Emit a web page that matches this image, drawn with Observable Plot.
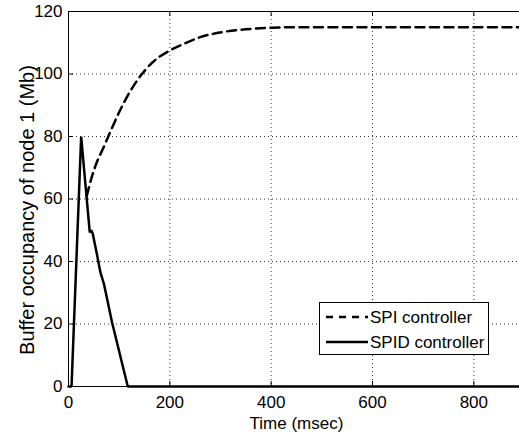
<!DOCTYPE html>
<html>
<head>
<meta charset="utf-8">
<script src="https://cdn.jsdelivr.net/npm/d3@7"></script>
<script src="https://cdn.jsdelivr.net/npm/@observablehq/plot@0.6"></script>
<style>
  html, body { margin: 0; padding: 0; background: #fff; }
  #wrap { position: relative; width: 519px; height: 438px; overflow: hidden; }
  #legend { position: absolute; left: 319px; top: 302px; }
</style>
</head>
<body>
<div id="wrap"></div>
<script>
const FONT = '"Liberation Sans", Arial, Helvetica, sans-serif';

// Data
const spiTime  = [36, 41, 45, 53, 70, 86, 103, 122, 145, 165, 200, 230, 260, 300, 350, 400, 450, 500, 600, 700, 800, 900];
const spiValue = [61, 64.1, 66.5, 70.5, 76.8, 82.8, 88.8, 94.5, 100, 103.6, 107.5, 109.8, 111.8, 113.3, 114.3, 114.8, 115, 115, 115, 115, 115, 115];

const spidTime  = [0, 6, 25, 36, 42, 45, 48, 56, 63, 70, 86, 117, 900];
const spidValue = [0, 0, 80, 60, 49.3, 50, 48.8, 42.4, 36.5, 32.8, 20.5, 0, 0];

const xTicks = [0, 200, 400, 600, 800];
const yTicks = [0, 20, 40, 60, 80, 100, 120];

const seriesNames = ["SPI controller", "SPID controller"];
const xLabel = "Time (msec)";
const yLabel = "Buffer occupancy of node 1 (Mb)";

const spi = spiTime.map((t, i) => ({t, v: spiValue[i]}));
const spid = spidTime.map((t, i) => ({t, v: spidValue[i]}));

const gridStyle = {stroke: "#333", strokeOpacity: 1, strokeDasharray: "1,3", strokeWidth: 1};

const chart = Plot.plot({
  width: 519,
  height: 438,
  marginLeft: 68,
  marginRight: -5,
  marginTop: 11,
  marginBottom: 52,
  x: {domain: [0, 900]},
  y: {domain: [0, 120]},
  style: {fontFamily: FONT, fontSize: "17px", color: "black", background: "white"},
  marks: [
    Plot.gridX(xTicks.filter(d => d > 0), gridStyle),
    Plot.gridY(yTicks.filter(d => d > 0 && d < 120), gridStyle),
    Plot.tickX(xTicks, {x: d => d, insetTop: 370, stroke: "black"}),
    Plot.tickX(xTicks, {x: d => d, insetBottom: 370, stroke: "black"}),
    Plot.tickY(yTicks, {y: d => d, insetRight: 451, stroke: "black"}),
    Plot.line(spi, {x: "t", y: "v", curve: "monotone-x", stroke: "black", strokeWidth: 2.5, strokeDasharray: "9,5.5"}),
    Plot.line(spid, {x: "t", y: "v", stroke: "black", strokeWidth: 2.5, strokeLinejoin: "miter"}),
    Plot.frame({stroke: "black", strokeWidth: 1}),
    Plot.axisX(xTicks, {tickSize: 0, tickPadding: 9, label: null, fontSize: 17}),
    Plot.axisY(yTicks, {tickSize: 0, tickPadding: 6, label: null, fontSize: 17}),
    Plot.text([xLabel], {frameAnchor: "bottom", dy: 37, lineAnchor: "middle", textAnchor: "middle", fontSize: 17, text: d => d}),
    Plot.text([yLabel], {frameAnchor: "left", dx: -41, dy: 11, rotate: -90, lineAnchor: "middle", textAnchor: "middle", fontSize: 20, text: d => d})
  ]
});

const wrap = document.getElementById("wrap");
wrap.appendChild(chart);

// Legend (HTML overlay with an inline SVG)
const lw = 170, lh = 53;
const legend = d3.create("svg")
  .attr("id", "legend")
  .attr("width", lw)
  .attr("height", lh)
  .style("font-family", FONT)
  .style("font-size", "17px");
legend.append("rect")
  .attr("x", 0.5).attr("y", 0.5)
  .attr("width", lw - 1).attr("height", lh - 1)
  .attr("fill", "white").attr("stroke", "black");
const rows = [
  {name: seriesNames[0], dash: "7,6"},
  {name: seriesNames[1], dash: null}
];
rows.forEach((r, i) => {
  const cy = 15 + i * 25;
  const ln = legend.append("line")
    .attr("x1", 7).attr("x2", 49)
    .attr("y1", cy).attr("y2", cy)
    .attr("stroke", "black").attr("stroke-width", 2.5);
  if (r.dash) ln.attr("stroke-dasharray", r.dash);
  legend.append("text")
    .attr("x", 51).attr("y", cy)
    .attr("dy", "0.35em")
    .attr("fill", "black")
    .text(r.name);
});
wrap.appendChild(legend.node());
</script>
</body>
</html>
